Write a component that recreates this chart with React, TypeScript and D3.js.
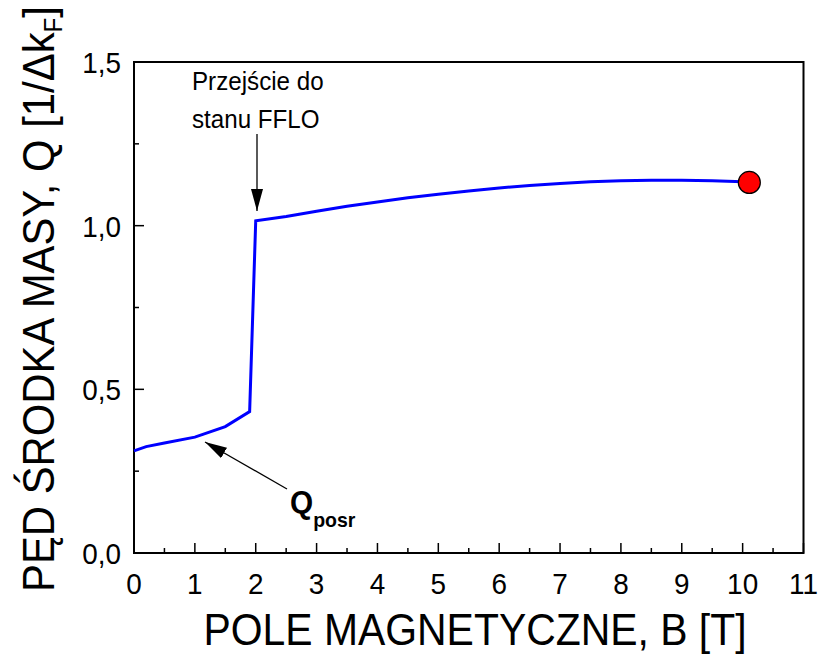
import React from "react";
import * as d3 from "d3";

// Magnetic field B [T] and centre-of-mass momentum Q [1/Δk_F]
const fieldB = [0, 0.2, 0.5, 1.0, 1.5, 1.9, 2.0, 2.5, 3.0, 3.5, 4.0, 4.5, 5.0, 5.5, 6.0, 6.5, 7.0, 7.5, 8.0, 8.5, 9.0, 9.5, 10.0, 10.11];
const momentumQ = [0.312, 0.325, 0.336, 0.354, 0.386, 0.432, 1.015, 1.028, 1.044, 1.059, 1.072, 1.085, 1.096, 1.106, 1.115, 1.123, 1.129, 1.134, 1.137, 1.139, 1.139, 1.137, 1.134, 1.132];

const xTicks = [0, 1, 2, 3, 4, 5, 6, 7, 8, 9, 10, 11];
const xMinor = d3.range(0.5, 11, 1);
const yTicks = [0, 0.5, 1.0, 1.5];
const yMinor = [0.25, 0.75, 1.25];
const yTickLabels = ["0,0", "0,5", "1,0", "1,5"];

const W = 821;
const H = 657;
const left = 134;
const right = 803.5;
const top = 62;
const bottom = 553;
const font = "'Liberation Sans', Arial, sans-serif";
const narrow = 0.93;

// Text drawn slightly condensed along its baseline
function NText(props: {
  x: number;
  y: number;
  size: number;
  anchor?: string;
  rotate?: number;
  weight?: string;
  children: React.ReactNode;
}) {
  const { x, y, size, anchor = "start", rotate = 0, weight = "normal", children } = props;
  return (
    <g transform={`translate(${x},${y}) rotate(${rotate}) scale(${narrow},1)`}>
      <text x={0} y={0} textAnchor={anchor} fontFamily={font} fontSize={size} fontWeight={weight} fill="#000">
        {children}
      </text>
    </g>
  );
}

export default function App() {
  const x = d3.scaleLinear().domain([0, 11]).range([left, right]);
  const y = d3.scaleLinear().domain([0, 1.5]).range([bottom, top]);
  const pts = fieldB.map((b, i) => [b, momentumQ[i]] as [number, number]);
  const line = d3
    .line<[number, number]>()
    .x((d) => x(d[0]))
    .y((d) => y(d[1]))
    .curve(d3.curveLinear);
  const last = pts[pts.length - 1];

  return (
    <svg width={W} height={H} style={{ position: "absolute", left: 0, top: 0 }}>
      <defs>
        <marker id="ah" viewBox="0 0 22 12" refX="22" refY="6" markerWidth="22" markerHeight="12" markerUnits="userSpaceOnUse" orient="auto">
          <path d="M0,0 L22,6 L0,12 Z" fill="#000" />
        </marker>
      </defs>
      <rect x={0} y={0} width={W} height={H} fill="#fff" />

      {/* ticks, pointing inward */}
      {xTicks.map((t) => (
        <line key={"xt" + t} x1={x(t)} x2={x(t)} y1={bottom} y2={bottom - 10} stroke="#000" strokeWidth={1.5} />
      ))}
      {xMinor.map((t) => (
        <line key={"xm" + t} x1={x(t)} x2={x(t)} y1={bottom} y2={bottom - 5} stroke="#000" strokeWidth={1.5} />
      ))}
      {yTicks.map((t) => (
        <line key={"yt" + t} x1={left} x2={left + 10} y1={y(t)} y2={y(t)} stroke="#000" strokeWidth={1.5} />
      ))}
      {yMinor.map((t) => (
        <line key={"ym" + t} x1={left} x2={left + 5} y1={y(t)} y2={y(t)} stroke="#000" strokeWidth={1.5} />
      ))}

      {/* frame */}
      <rect x={left} y={top} width={right - left} height={bottom - top} fill="none" stroke="#000" strokeWidth={2} />

      {/* tick labels */}
      {xTicks.map((t) => (
        <NText key={"xl" + t} x={x(t)} y={594} size={30} anchor="middle">
          {t}
        </NText>
      ))}
      {yTicks.map((t, i) => (
        <NText key={"yl" + t} x={121} y={y(t) + 11} size={30} anchor="end">
          {yTickLabels[i]}
        </NText>
      ))}

      {/* axis titles */}
      <NText x={475} y={645} size={44} anchor="middle">
        POLE MAGNETYCZNE, B [T]
      </NText>
      <NText x={54} y={299} size={45} anchor="middle" rotate={-90}>
        PĘD ŚRODKA MASY, Q [1/Δk<tspan fontSize={26} dy={8}>F</tspan>
        <tspan dy={-8}>]</tspan>
      </NText>

      {/* data */}
      <path d={line(pts) || ""} fill="none" stroke="#0000ff" strokeWidth={3} />
      <circle cx={x(last[0])} cy={y(last[1])} r={11} fill="#ff0000" stroke="#000" strokeWidth={1.2} />

      {/* annotations */}
      <NText x={192} y={90} size={26}>Przejście do</NText>
      <NText x={192} y={128} size={26}>stanu FFLO</NText>
      <line x1={257} y1={134} x2={257} y2={211} stroke="#000" strokeWidth={1.3} markerEnd="url(#ah)" />

      <line x1={287} y1={489} x2={205} y2={442} stroke="#000" strokeWidth={1.3} markerEnd="url(#ah)" />
      <NText x={290} y={513} size={32} weight="bold">
        Q<tspan fontSize={21} dy={14}>posr</tspan>
      </NText>
    </svg>
  );
}
